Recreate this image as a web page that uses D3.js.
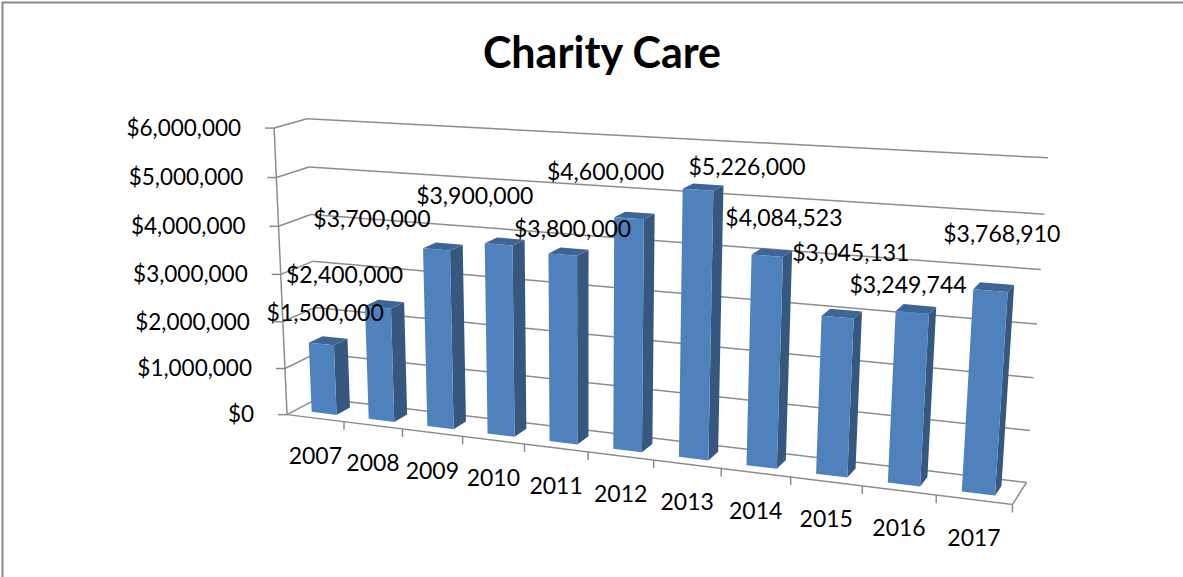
<!DOCTYPE html>
<html>
<head>
<meta charset="utf-8"/>
<title>Charity Care</title>
<script src="https://cdn.jsdelivr.net/npm/d3@7"></script>
<style>
  body { margin: 0; background: #fff; }
  text { font-family: Lato, "Open Sans", sans-serif; fill: #000; }
</style>
</head>
<body>
<div id="chart"></div>
<script>
// chart data
var years = ["2007", "2008", "2009", "2010", "2011", "2012", "2013", "2014", "2015", "2016", "2017"];
var amounts = [1500000, 2400000, 3700000, 3900000, 3800000, 4600000, 5226000, 4084523, 3045131, 3249744, 3768910];
var yTicks = [0, 1000000, 2000000, 3000000, 4000000, 5000000, 6000000];
var title = "Charity Care";

// the value labels were dragged by hand in the original, so nudge them (px)
var labelNudge = [[-3, 0], [-40, -1], [-71, 0], [-30, -18], [4, 5], [-29, -15],
                  [44, 8], [12, -7], [9, -33], [-8, 4], [8, -25]];

var W = 1183, H = 577;

var svg = d3.select("#chart").append("svg")
    .attr("width", W)
    .attr("height", H);

svg.append("rect").attr("width", W).attr("height", H).attr("fill", "#fff");

// outer frame (only top + left show in the picture)
svg.append("path")
    .attr("d", "M2.5," + H + "V2.5H" + W)
    .attr("fill", "none")
    .attr("stroke", "#888")
    .attr("stroke-width", 2);

// ---- 3d projection: fit a perspective matrix to where the box corners land ----
// box coords: u = along categories (0..1), v = value fraction (0..1), w = depth (0 front .. 1 back)
var anchors = [
  [0, 0, 0, 290, 413],
  [0, 1, 0, 271, 128],
  [1, 0, 0, 1012, 507],
  [0, 0, 1, 315, 400],
  [0, 1, 1, 310, 119],
  [1, 0, 1, 1027, 480],
  [1, 1, 1, 1048, 158],
  [5/11, 0, 0, 589, 452],
  [6/11, 0, 0, 653, 460],
  [0, 0.5, 0, 281, 274]
];

function solve(M, r) {
  var n = r.length, i, j, k;
  M = M.map(function(row) { return row.slice(); });
  r = r.slice();
  for (i = 0; i < n; i++) {
    var piv = i;
    for (k = i + 1; k < n; k++) if (Math.abs(M[k][i]) > Math.abs(M[piv][i])) piv = k;
    var t = M[i]; M[i] = M[piv]; M[piv] = t;
    t = r[i]; r[i] = r[piv]; r[piv] = t;
    for (k = i + 1; k < n; k++) {
      var f = M[k][i] / M[i][i];
      for (j = i; j < n; j++) M[k][j] -= f * M[i][j];
      r[k] -= f * r[i];
    }
  }
  var x = new Array(n);
  for (i = n - 1; i >= 0; i--) {
    var s = r[i];
    for (j = i + 1; j < n; j++) s -= M[i][j] * x[j];
    x[i] = s / M[i][i];
  }
  return x;
}

var rows = [], rhs = [];
anchors.forEach(function(a) {
  var X = a[0], Y = a[1], Z = a[2], x = a[3], y = a[4];
  rows.push([X, Y, Z, 1, 0, 0, 0, 0, -x*X, -x*Y, -x*Z]); rhs.push(x);
  rows.push([0, 0, 0, 0, X, Y, Z, 1, -y*X, -y*Y, -y*Z]); rhs.push(y);
});
var AtA = [], Atb = [];
for (var i = 0; i < 11; i++) {
  AtA.push([]);
  var s = 0;
  for (var j = 0; j < 11; j++) {
    var m = 0;
    for (var k = 0; k < rows.length; k++) m += rows[k][i] * rows[k][j];
    AtA[i].push(m);
  }
  for (var k = 0; k < rows.length; k++) s += rows[k][i] * rhs[k];
  Atb.push(s);
}
var p = solve(AtA, Atb);

function proj(u, v, w) {
  var d = p[8]*u + p[9]*v + p[10]*w + 1;
  return [(p[0]*u + p[1]*v + p[2]*w + p[3]) / d,
          (p[4]*u + p[5]*v + p[6]*w + p[7]) / d];
}

// scales
var x = d3.scaleBand().domain(years).range([0, 1]).paddingInner(0.56).paddingOuter(0.28);
var y = d3.scaleLinear().domain([0, 6000000]).range([0, 1]);
var fmt = d3.format("$,");
var depth0 = 0.28, depth1 = 0.72;

var line = d3.line();
var grid = svg.append("g")
    .attr("fill", "none")
    .attr("stroke", "#8c8c8c")
    .attr("stroke-width", 1.5);

// back wall + side wall gridlines
yTicks.forEach(function(t) {
  var v = y(t);
  grid.append("path").attr("d", line([proj(0, v, 1), proj(1, v, 1)]));
  grid.append("path").attr("d", line([proj(0, v, 0), proj(0, v, 1)]));
  var a = proj(0, v, 0);
  grid.append("path").attr("d", line([[a[0] - 9, a[1]], a]));
});
// value axis + floor edges
grid.append("path").attr("d", line([proj(0, 0, 0), proj(0, 1, 0)]));
grid.append("path").attr("d", line([proj(0, 0, 0), proj(1, 0, 0), proj(1, 0, 1)]));
// category ticks at slot boundaries
years.forEach(function(yr, i) {
  var b = proj((i + 1) / years.length, 0, 0);
  grid.append("path").attr("d", line([b, [b[0], b[1] + 8]]));
});

// y axis labels
svg.append("g").selectAll("text")
  .data(yTicks)
  .join("text")
    .attr("x", function(d) { return proj(0, y(d), 0)[0] - 33; })
    .attr("y", function(d) { return proj(0, y(d), 0)[1]; })
    .attr("dy", "0.35em")
    .attr("text-anchor", "end")
    .attr("font-size", 22.5)
    .text(fmt);

// category labels
svg.append("g").selectAll("text")
  .data(years)
  .join("text")
    .attr("x", function(d) { return proj(x(d) + x.bandwidth() / 2, 0, 0)[0]; })
    .attr("y", function(d) { return proj(x(d) + x.bandwidth() / 2, 0, 0)[1] + 46; })
    .attr("text-anchor", "middle")
    .attr("font-size", 23)
    .text(function(d) { return d; });

// bars, left to right
var bars = svg.append("g");
years.forEach(function(yr, i) {
  var u0 = x(yr), u1 = x(yr) + x.bandwidth(), h = y(amounts[i]);
  var g = bars.append("g");
  g.append("path")
      .attr("d", line([proj(u1, 0, depth0), proj(u1, 0, depth1), proj(u1, h, depth1), proj(u1, h, depth0)]) + "Z")
      .attr("fill", "#36587f");
  g.append("path")
      .attr("d", line([proj(u0, h, depth0), proj(u1, h, depth0), proj(u1, h, depth1), proj(u0, h, depth1)]) + "Z")
      .attr("fill", "#3d6595");
  g.append("path")
      .attr("d", line([proj(u0, 0, depth0), proj(u1, 0, depth0), proj(u1, h, depth0), proj(u0, h, depth0)]) + "Z")
      .attr("fill", "#4f81bd");
});

// value labels above the bars
svg.append("g").selectAll("text")
  .data(years)
  .join("text")
    .attr("x", function(d, i) { return proj(x(d) + x.bandwidth() / 2, y(amounts[i]), 0.5)[0] + labelNudge[i][0]; })
    .attr("y", function(d, i) { return proj(x(d) + x.bandwidth() / 2, y(amounts[i]), 0.5)[1] - 20 + labelNudge[i][1]; })
    .attr("text-anchor", "middle")
    .attr("font-size", 23)
    .text(function(d, i) { return fmt(amounts[i]); });

// title
svg.append("text")
    .attr("x", 602)
    .attr("y", 68)
    .attr("text-anchor", "middle")
    .attr("font-size", 43)
    .attr("font-weight", "bold")
    .text(title);
</script>
</body>
</html>
